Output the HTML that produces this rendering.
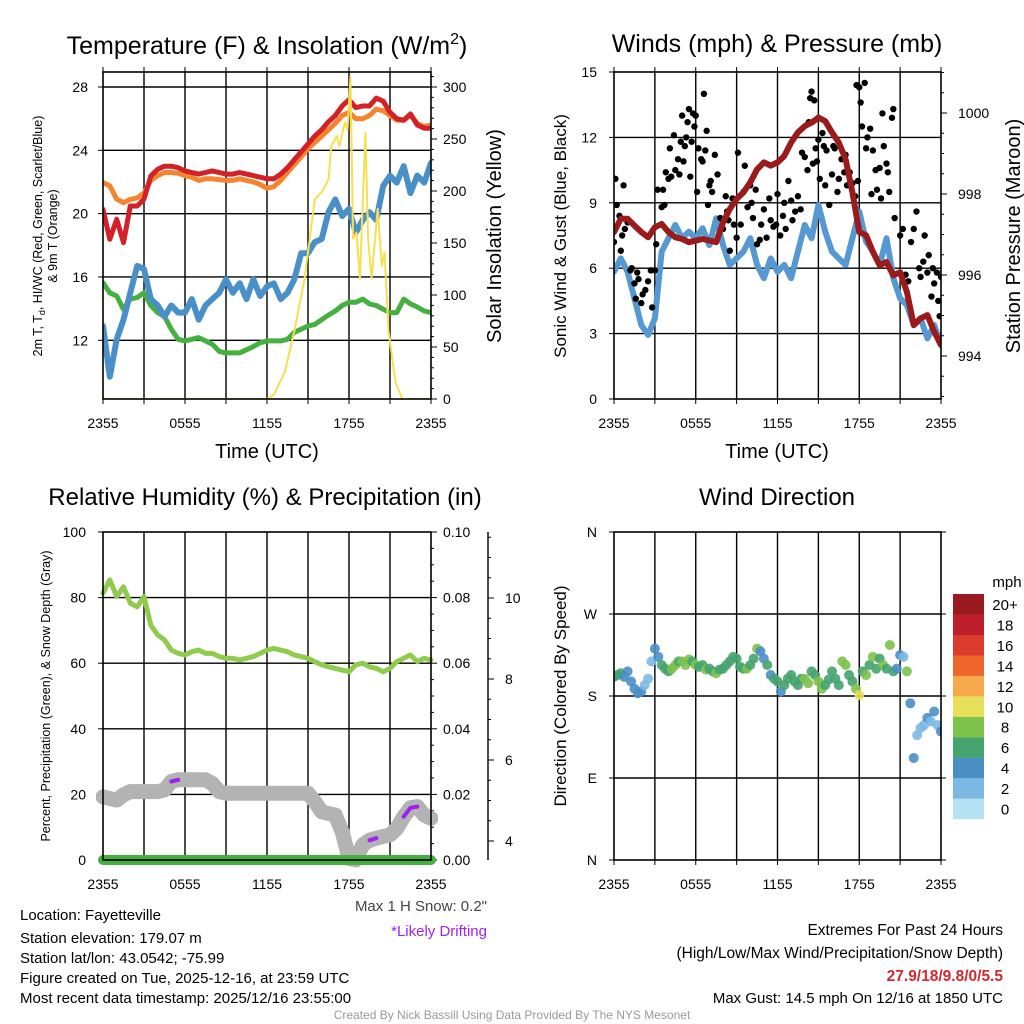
<!DOCTYPE html>
<html><head><meta charset="utf-8">
<style>
html,body{margin:0;padding:0;background:#fff;}
svg{display:block;font-family:"Liberation Sans",Arial,sans-serif;}
</style></head>
<body>
<svg id="fig" width="1024" height="1024" viewBox="0 0 1024 1024" xmlns="http://www.w3.org/2000/svg">
<defs>
<clipPath id="c1"><rect x="103" y="72" width="328" height="327"/></clipPath>
<clipPath id="c2"><rect x="614" y="72" width="327" height="327"/></clipPath>
<clipPath id="c3"><rect x="96" y="532" width="342" height="336"/></clipPath>
<clipPath id="c4"><rect x="614" y="532" width="327" height="328"/></clipPath>
</defs>
</svg>
<script>
// ---------- DATA ----------
const hourLabels = ["2355","0555","1155","1755","2355"];
// Panel 1 (30-min steps, 0..24h)
const airTemp = [20.27,18.38,19.64,18.17,20.48,20.48,20.91,22.38,22.8,23.0,23.0,22.9,22.7,22.6,22.5,22.6,22.7,22.6,22.5,22.5,22.6,22.5,22.4,22.3,22.2,22.2,22.5,22.9,23.4,23.9,24.4,24.9,25.3,25.8,26.2,26.8,27.2,26.7,26.8,26.8,27.3,27.1,26.4,26.0,25.9,26.3,25.6,25.4,25.4];
const temp9m = [21.96,21.75,20.91,20.7,20.9,21.0,21.3,22.1,22.4,22.6,22.6,22.55,22.4,22.3,22.1,22.2,22.2,22.15,22.1,22.1,22.2,22.1,22.0,21.85,21.6,21.7,22.1,22.6,23.1,23.6,24.1,24.5,24.9,25.3,25.7,26.2,26.4,26.0,26.0,26.2,26.6,26.5,26.2,25.9,25.9,26.2,25.7,25.5,25.6];
const dewPoint = [15.64,15.0,14.8,13.96,14.6,14.7,15.0,14.2,13.75,13.5,12.7,12.06,11.96,12.06,12.17,11.96,11.75,11.3,11.2,11.2,11.2,11.4,11.6,11.85,11.96,11.96,11.96,12.06,12.5,12.7,12.9,13.0,13.3,13.6,13.85,14.2,14.4,14.4,14.6,14.3,14.2,13.96,13.75,13.75,14.6,14.3,14.1,13.85,13.75];
const heatIndexWC = [12.9,9.7,12.06,13.3,15.0,16.7,16.5,14.6,14.2,13.5,14.2,13.75,13.75,14.6,13.3,14.2,14.6,15.0,15.85,15.0,15.6,14.6,15.85,14.8,15.4,15.6,14.6,15.0,15.85,17.5,17.5,18.2,18.4,20.1,20.9,19.85,20.3,18.8,19.6,20.1,19.6,21.75,22.4,21.96,23.0,21.3,22.4,21.96,23.2];
const solarHours = [0,12,12.5,13.3,14,14.75,15.5,16,16.5,16.7,17.1,17.3,17.7,17.9,18.1,18.3,18.55,18.8,19.2,19.4,19.65,20.1,20.4,20.6,20.9,21.4,21.9,24];
const solarVals  = [0,0,4,26,65,116,192,199,211,243,253,243,266,259,310,154,160,116,256,154,116,183,128,141,65,16,0,0];
const tempTicks = [12,16,20,24,28];
const solarTicks = [0,50,100,150,200,250,300];
// Panel 2
const windSpeed = [5.84,6.45,5.84,4.62,3.39,2.94,3.7,6.76,7.37,7.98,7.37,7.68,7.37,7.83,7.06,8.29,7.06,6.15,6.45,6.76,7.37,6.15,5.54,6.45,5.84,6.15,5.54,6.76,7.98,7.37,8.9,7.68,6.76,6.45,6.15,7.37,8.59,7.22,6.76,6.15,7.37,5.54,4.62,4.31,3.39,3.7,2.78,3.39,2.48];
const pressure = [997.06,997.39,997.39,997.22,997.06,996.93,997.18,997.26,997.06,996.93,996.89,996.81,996.85,996.89,996.85,996.81,997.3,997.63,997.88,998.04,998.29,998.61,998.78,998.7,998.78,998.94,999.27,999.52,999.68,999.76,999.89,999.8,999.52,999.27,998.86,998.04,997.06,996.98,996.57,996.24,996.32,995.99,996.07,995.58,994.76,994.93,995.01,994.6,994.27];
const gustHours = [0,0.1,0.2,0.4,0.5,0.6,0.7,0.8,1.0,1.2,1.3,1.5,1.6,1.7,1.8,2.0,2.1,2.3,2.5,2.7,2.8,3.0,3.1,3.2,3.5,3.6,3.7,3.8,4.0,4.1,4.2,4.4,4.5,4.7,4.8,4.9,5.0,5.1,5.2,5.3,5.4,5.5,5.6,5.7,5.8,5.9,6.0,6.1,6.2,6.4,6.5,6.6,6.7,6.8,6.9,7.0,7.1,7.2,7.4,7.6,7.8,8.0,8.2,8.3,8.4,8.5,8.7,8.8,9.0,9.1,9.3,9.5,9.6,9.8,10.0,10.1,10.2,10.4,10.5,10.7,10.8,11.0,11.2,11.4,11.5,11.7,11.9,12.0,12.2,12.4,12.5,12.6,12.8,13.0,13.1,13.3,13.5,13.7,13.8,14.0,14.2,14.3,14.4,14.5,14.6,14.7,14.8,14.9,15.0,15.1,15.3,15.4,15.5,15.6,15.8,16.0,16.1,16.2,16.4,16.5,16.7,16.9,17.0,17.1,17.3,17.5,17.7,17.8,17.9,18.0,18.1,18.2,18.4,18.5,18.6,18.8,18.9,19.0,19.2,19.3,19.5,19.6,19.7,19.8,20.0,20.1,20.2,20.4,20.5,20.6,21.0,21.2,21.4,21.6,21.8,22.0,22.2,22.4,22.5,22.7,22.8,23.0,23.1,23.3,23.4,23.5,23.7,23.8,23.9,24.0];
const gustVals = [7.2,10.1,8.9,8.4,6.8,7.5,9.8,7.8,8.1,5.9,6.0,5.3,4.6,5.8,5.5,4.4,4.8,5.0,5.4,5.9,4.2,5.9,7.1,9.6,8.8,9.6,8.9,10.4,10.1,11.5,10.2,12.1,10.5,11.0,10.3,11.8,13.0,10.9,11.6,12.0,12.7,13.3,10.2,11.8,13.1,12.5,13.0,9.5,11.5,11.0,10.9,14.0,11.4,12.3,8.9,9.8,10.0,9.5,11.2,10.3,8.3,7.8,9.3,8.6,8.2,6.8,9.2,8.0,7.4,11.3,8.0,9.5,10.7,8.8,9.8,9.0,8.3,9.6,7.1,7.3,8.0,8.7,7.4,9.2,8.2,7.9,8.0,9.4,7.5,8.4,9.0,7.8,10.0,9.1,8.2,8.6,9.3,8.7,11.3,11.1,10.5,12.7,13.8,14.1,10.8,13.7,11.5,10.9,11.9,10.1,12.2,11.6,9.8,11.4,8.9,10.3,11.6,11.5,9.5,10.1,11.0,10.4,11.2,9.8,10.4,9.9,9.3,14.4,10.0,14.3,13.6,12.5,14.5,11.5,12.0,12.4,9.4,11.4,10.5,9.6,10.6,9.2,13.1,11.6,10.8,10.4,9.5,12.9,13.3,8.3,7.5,7.8,5.7,5.4,7.2,7.8,8.6,6.0,5.6,6.3,7.5,5.8,6.6,4.7,6.0,5.3,5.8,4.5,3.8,5.6];
const windTicks = [0,3,6,9,12,15];
const pressTicks = [994,996,998,1000];
// Panel 3
const relHum = [81.3,85.4,80.3,83.3,78.3,77.2,80.3,71.6,68.6,67.1,64.0,63.0,62.5,63.5,64.0,63.0,63.0,62.0,61.5,61.5,61.0,61.5,62.0,63.0,64.0,64.5,64.0,63.5,62.5,62.0,61.5,60.5,59.5,58.9,58.4,57.9,57.4,59.5,60.0,58.9,58.4,57.4,58.4,60.5,61.5,62.5,60.5,61.5,61.0];
const precip = [0,0,0,0,0,0,0,0,0,0,0,0,0,0,0,0,0,0,0,0,0,0,0,0,0,0,0,0,0,0,0,0,0,0,0,0,0,0,0,0,0,0,0,0,0,0,0,0,0];
const snowDepth = [5.09,5.05,5.01,5.14,5.22,5.22,5.22,5.22,5.22,5.26,5.47,5.51,5.51,5.51,5.51,5.51,5.42,5.22,5.18,5.18,5.18,5.18,5.18,5.18,5.18,5.18,5.18,5.18,5.18,5.18,5.18,4.97,4.72,4.68,4.64,4.23,3.57,3.53,3.9,4.02,4.07,4.11,4.15,4.31,4.6,4.82,4.85,4.64,4.56];
const driftFlag = [0,0,0,0,0,0,0,0,0,0,1,1,0,0,0,0,0,0,0,0,0,0,0,0,0,0,0,0,0,0,0,0,0,0,0,0,0,0,0,1,1,0,0,0,1,1,1,0,0];
const rhTicks = [0,20,40,60,80,100];
const precipTicks = ["0.00","0.02","0.04","0.06","0.08","0.10"];
const snowTicks = [4,6,8,10];
// Panel 4 (15-min steps)
const windDir = [201,203,205,201,207,196,188,183,185,192,199,218,232,223,214,210,207,210,214,218,218,214,220,218,214,212,214,209,210,207,205,209,210,214,218,223,221,212,210,210,214,221,232,229,221,214,203,199,196,185,192,199,203,196,192,199,199,194,207,203,196,188,192,198,207,199,192,218,214,203,196,188,181,207,203,214,223,210,221,214,210,236,207,210,225,223,207,172,112,137,145,148,156,152,163,148,141];
const windDirSpd = [6.5,6.5,6.5,5,5,5,4.5,4.5,5,3.5,3,3,5,5,7,6.5,6.5,8.5,8.5,6.5,8.5,8.5,8.5,7,8.5,7,7,8.5,6.5,7,8.5,6.5,7,6.5,7,6.5,7,7,6.5,8.5,7,6.5,8.5,5,5,6.5,5,6.5,6.5,5,7,6.5,6.5,7,7,6.5,8.5,8.5,7,7,8.5,8.5,6.5,7,6.5,7,6.5,8.5,8.5,6.5,7,8.5,10.5,7,8.5,6.5,8.5,6.5,6.5,9,6.5,9,6.5,5,5,3,8.5,5,5,3,3,3,5,3,5,3,5];
const dirTicks = [0,90,180,270,360];
const dirLabels = ["N","E","S","W","N"];
const cbarLabels = ["0","2","4","6","8","10","12","14","16","18","20+"];
const cbarColors = ["#b6e2f6","#7bb9e3","#4a8ec6","#45a36e","#7dc24b","#e8df5a","#f6aa4b","#ef662b","#dc3a2c","#bf1f2a","#991b1f"];

// ---------- HELPERS ----------
const NS = "http://www.w3.org/2000/svg";
const svg = document.getElementById('fig');
function mk(tag, attrs, parent, name, inter) {
  const el = document.createElementNS(NS, tag);
  for (const k in attrs) el.setAttribute(k, attrs[k]);
  
  
  (parent || svg).appendChild(el);
  return el;
}
function txt(x, y, s, size, anchor, name, extra) {
  const a = {x:x, y:y, 'font-size':size, 'text-anchor':anchor||'middle', fill:'#000'};
  if (extra) for (const k in extra) a[k] = extra[k];
  const t = mk('text', a, svg, name, false);
  t.textContent = s;
  return t;
}
function polyline(xs, ys, attrs, parent, name) {
  const pts = xs.map((x,i)=>x.toFixed(1)+','+ys[i].toFixed(1)).join(' ');
  const a = {points:pts, fill:'none', 'stroke-linejoin':'round', 'stroke-linecap':'round'};
  for (const k in attrs) a[k] = attrs[k];
  return mk('polyline', a, parent, name, false);
}
const idx30 = airTemp.map((_,i)=>i*0.5);
const idx15 = windDir.map((_,i)=>i*0.25);

function frame(x0, x1, y0, y1, prefix, hLines, showTop) {
  const g = mk('g', {}, svg, prefix+'-gridlines', false);
  for (let h=3; h<24; h+=3) {
    const x = x0 + h*(x1-x0)/24;
    mk('line', {x1:x, x2:x, y1:y0, y2:y1, stroke:'#000', 'stroke-width':1.4}, g, prefix+'-vgrid', false);
  }
  hLines.forEach(y=>mk('line', {x1:x0, x2:x1, y1:y, y2:y, stroke:'#000', 'stroke-width':1.4}, g, prefix+'-hgrid', false));
  for (let h=0; h<=24; h+=3) {
    const x = x0 + h*(x1-x0)/24;
    mk('line', {x1:x, x2:x, y1:y1, y2:y1+5, stroke:'#000', 'stroke-width':1}, g, prefix+'-x-tick', false);
    if (showTop) mk('line', {x1:x, x2:x, y1:y0, y2:y0-5, stroke:'#000', 'stroke-width':1}, g, prefix+'-x-tick-top', false);
  }
  hourLabels.forEach((l,i)=>txt(x0 + i*6*(x1-x0)/24, y1+29, l, 14, 'middle', prefix+'-x-tick-label'));
}
function box(x0,x1,y0,y1,prefix){
  mk('rect',{x:x0,y:y0,width:x1-x0,height:y1-y0,fill:'none',stroke:'#000','stroke-width':1.6},svg,prefix+'-plot-frame',false);
}

// ---------- PANEL 1 ----------
(function(){
  const X0=103,X1=431,Y0=72,Y1=399;
  const x = h=>X0+h*(X1-X0)/24;
  const yT = t=>87+(28-t)*15.83;
  const yS = s=>399-s*(312/300);
  frame(X0,X1,Y0,Y1,'temp',tempTicks.map(yT),true);
  tempTicks.forEach(t=>{
    mk('line',{x1:X0-5,x2:X0,y1:yT(t),y2:yT(t),stroke:'#000'},svg,'temp-y-tick',false);
    txt(X0-15,yT(t)+5,String(t),14,'end','temp-y-tick-label');
  });
  for (let s=0;s<=310;s+=10) mk('line',{x1:X1,x2:X1+(s%50===0?6:3),y1:yS(s),y2:yS(s),stroke:'#000'},svg,'solar-y-tick',false);
  solarTicks.forEach(s=>txt(X1+12,yS(s)+5,String(s),14,'start','solar-y-tick-label'));
  const g = mk('g',{'clip-path':'url(#c1)'},svg,'temp-series',false);
  polyline(idx30.map(x), dewPoint.map(yT), {stroke:'#45b03f','stroke-width':5}, g, 'dewpoint-line');
  polyline(idx30.map(x), heatIndexWC.map(yT), {stroke:'#4a90c8','stroke-width':6}, g, 'heat-index-windchill-line');
  polyline(idx30.map(x), temp9m.map(yT), {stroke:'#f5842f','stroke-width':5}, g, 'temp-9m-line');
  polyline(idx30.map(x), airTemp.map(yT), {stroke:'#d42027','stroke-width':5}, g, 'temp-2m-line');
  polyline(solarHours.map(x), solarVals.map(yS), {stroke:'#f7e04f','stroke-width':2}, g, 'solar-insolation-line');
  box(X0,X1,Y0,Y1,'temp');
  const t = txt(267,54,'Temperature (F) & Insolation (W/m',25,'middle','temp-chart-title');
  const sup = document.createElementNS(NS,'tspan'); sup.setAttribute('dy','-10'); sup.setAttribute('font-size','16'); sup.textContent='2'; t.appendChild(sup);
  const cl = document.createElementNS(NS,'tspan'); cl.setAttribute('dy','10'); cl.textContent=')'; t.appendChild(cl);
  const l1 = txt(0,0,'',12.5,'middle','temp-y-axis-title',{transform:'translate(42,236) rotate(-90)'});
  l1.innerHTML = '2m T, T<tspan dy="3" font-size="9">d</tspan><tspan dy="-3">, HI/WC (Red, Green, Scarlet/Blue)</tspan>';
  txt(0,0,'& 9m T (Orange)',12.5,'middle','temp-y-axis-title-line2',{transform:'translate(57,236) rotate(-90)'});
  txt(0,0,'Solar Insolation (Yellow)',20,'middle','solar-y-axis-title',{transform:'translate(501,236) rotate(-90)'});
  txt(267,458,'Time (UTC)',20,'middle','temp-x-axis-title');
})();

// ---------- PANEL 2 ----------
(function(){
  const X0=614,X1=941,Y0=72,Y1=399;
  const x = h=>X0+h*(X1-X0)/24;
  const yW = w=>399-w*(327/15);
  const yP = p=>356-(p-994)*40.5;
  frame(X0,X1,Y0,Y1,'wind',windTicks.slice(1,5).map(yW),true);
  windTicks.forEach(w=>{
    mk('line',{x1:X0-5,x2:X0,y1:yW(w),y2:yW(w),stroke:'#000'},svg,'wind-y-tick',false);
    txt(X0-17,yW(w)+5,String(w),14,'end','wind-y-tick-label');
  });
  for (let p=993;p<=1001;p+=0.5) mk('line',{x1:X1,x2:X1+(p%2===0?6:3),y1:yP(p),y2:yP(p),stroke:'#000'},svg,'pressure-y-tick',false);
  pressTicks.forEach(p=>txt(X1+17,yP(p)+5,String(p),14,'start','pressure-y-tick-label'));
  const g = mk('g',{'clip-path':'url(#c2)'},svg,'wind-series',false);
  polyline(idx30.map(x), windSpeed.map(yW), {stroke:'#5598d2','stroke-width':6}, g, 'wind-speed-line');
  gustHours.forEach((h,i)=>mk('circle',{cx:x(h),cy:yW(gustVals[i]),r:3.2,fill:'#000'},g,'wind-gust-point',false));
  polyline(idx30.map(x), pressure.map(yP), {stroke:'#9b1a1c','stroke-width':6}, g, 'pressure-line');
  box(X0,X1,Y0,Y1,'wind');
  txt(777,52,'Winds (mph) & Pressure (mb)',25,'middle','wind-chart-title');
  txt(0,0,'Sonic Wind & Gust (Blue, Black)',17,'middle','wind-y-axis-title',{transform:'translate(566,236) rotate(-90)'});
  txt(0,0,'Station Pressure (Maroon)',20,'middle','pressure-y-axis-title',{transform:'translate(1020,236) rotate(-90)'});
  txt(777,458,'Time (UTC)',20,'middle','wind-x-axis-title');
})();

// ---------- PANEL 3 ----------
(function(){
  const X0=103,X1=431,Y0=532,Y1=860;
  const x = h=>X0+h*(X1-X0)/24;
  const yR = r=>860-r*3.28;
  const yPr = p=>860-p*3280;
  const ySn = s=>841-(s-4)*40.5;
  frame(X0,X1,Y0,Y1,'rh',rhTicks.slice(1,5).map(yR),false);
  rhTicks.forEach(r=>{
    mk('line',{x1:X0-5,x2:X0,y1:yR(r),y2:yR(r),stroke:'#000'},svg,'rh-y-tick',false);
    txt(X0-17,yR(r)+5,String(r),14,'end','rh-y-tick-label');
  });
  for (let i=0;i<=20;i++){const p=i*0.005; mk('line',{x1:X1,x2:X1+(i%4===0?6:3),y1:yPr(p),y2:yPr(p),stroke:'#000'},svg,'precip-y-tick',false);}
  precipTicks.forEach(p=>txt(X1+12,yPr(parseFloat(p))+5,p,14,'start','precip-y-tick-label'));
  mk('line',{x1:488,x2:488,y1:Y0,y2:Y1,stroke:'#000','stroke-width':1.4},svg,'snow-axis-line',false);
  for (let s=4;s<=11.5;s+=0.5) mk('line',{x1:488,x2:488+(s%2===0?6:3),y1:ySn(s),y2:ySn(s),stroke:'#000'},svg,'snow-y-tick',false);
  snowTicks.forEach(s=>txt(505,ySn(s)+5,String(s),14,'start','snow-y-tick-label'));
  const g = mk('g',{'clip-path':'url(#c3)'},svg,'rh-series',false);
  polyline(idx30.map(x), relHum.map(yR), {stroke:'#8fcb4e','stroke-width':5}, g, 'relative-humidity-line');
  polyline(idx30.map(x), snowDepth.map(ySn), {stroke:'#b3b3b3','stroke-width':15}, g, 'snow-depth-line');
  let seg=[];
  driftFlag.forEach((f,i)=>{
    if (f) seg.push(i);
    if ((!f || i===driftFlag.length-1) && seg.length){
      if (seg.length>1) polyline(seg.map(j=>x(idx30[j])), seg.map(j=>ySn(snowDepth[j])), {stroke:'#a020f0','stroke-width':4}, g, 'likely-drifting-segment');
      seg=[];
    }
  });
  polyline(idx30.map(x), precip.map(yPr), {stroke:'#45b03f','stroke-width':10}, g, 'precipitation-line');
  box(X0,X1,Y0,Y1,'rh');
  txt(265,505,'Relative Humidity (%) & Precipitation (in)',24,'middle','rh-chart-title');
  txt(0,0,'Percent, Precipitation (Green), & Snow Depth (Gray)',12.5,'middle','rh-y-axis-title',{transform:'translate(50,696) rotate(-90)'});
  txt(487,911,'Max 1 H Snow: 0.2"',15,'end','max-snow-note',{fill:'#444'});
  txt(487,936,'*Likely Drifting',15,'end','likely-drifting-note',{fill:'#a020f0'});
})();

// ---------- PANEL 4 ----------
(function(){
  const X0=614,X1=941,Y0=532,Y1=860;
  const x = h=>X0+h*(X1-X0)/24;
  const yD = d=>860-d*(328/360);
  frame(X0,X1,Y0,Y1,'dir',[90,180,270].map(yD),false);
  dirTicks.forEach((d,i)=>{
    mk('line',{x1:X0-5,x2:X0,y1:yD(d),y2:yD(d),stroke:'#000'},svg,'dir-y-tick',false);
    mk('line',{x1:X1,x2:X1+5,y1:yD(d),y2:yD(d),stroke:'#000'},svg,'dir-y-tick-right',false);
    txt(X0-17,yD(d)+5,dirLabels[i],14,'end','dir-y-tick-label');
  });
  const col = s=>cbarColors[Math.min(10,Math.floor(s/2))];
  const g = mk('g',{'clip-path':'url(#c4)'},svg,'dir-series',false);
  windDir.forEach((d,i)=>mk('circle',{cx:x(idx15[i]),cy:yD(d),r:5,fill:col(windDirSpd[i]),'fill-opacity':0.9},g,'wind-direction-point',false));
  box(X0,X1,Y0,Y1,'dir');
  txt(777,505,'Wind Direction',24,'middle','dir-chart-title');
  txt(0,0,'Direction (Colored By Speed)',17,'middle','dir-y-axis-title',{transform:'translate(566,696) rotate(-90)'});
  const cb = mk('g',{},svg,'speed-colorbar',false);
  cbarColors.forEach((c,i)=>{
    const yy = 594 + (10-i)*20.45;
    mk('rect',{x:953,y:yy,width:31,height:20.6,fill:c},cb,'colorbar-bin',false);
    txt(1005,yy+16,cbarLabels[i],15,'middle','colorbar-label');
  });
  txt(1007,587,'mph',15,'middle','colorbar-unit-label');
})();

// ---------- FOOTER ----------
const info = ["Location: Fayetteville","Station elevation: 179.07 m","Station lat/lon: 43.0542; -75.99","Figure created on Tue, 2025-12-16, at 23:59 UTC","Most recent data timestamp: 2025/12/16 23:55:00"];
const infoY = [920,943,963,983,1003];
info.forEach((s,i)=>txt(20,infoY[i],s,15,'start','station-info-line'));
txt(1003,935,'Extremes For Past 24 Hours',15.5,'end','extremes-heading');
txt(1003,958,'(High/Low/Max Wind/Precipitation/Snow Depth)',15.5,'end','extremes-subheading');
txt(1003,981,'27.9/18/9.8/0/5.5',15.5,'end','extremes-values',{fill:'#d0282e','font-weight':'bold'});
txt(1003,1003,'Max Gust: 14.5 mph On 12/16 at 1850 UTC',15,'end','max-gust-note');
txt(512,1019,'Created By Nick Bassill Using Data Provided By The NYS Mesonet',12,'middle','credit-line',{fill:'#999'});
</script>
</body></html>
